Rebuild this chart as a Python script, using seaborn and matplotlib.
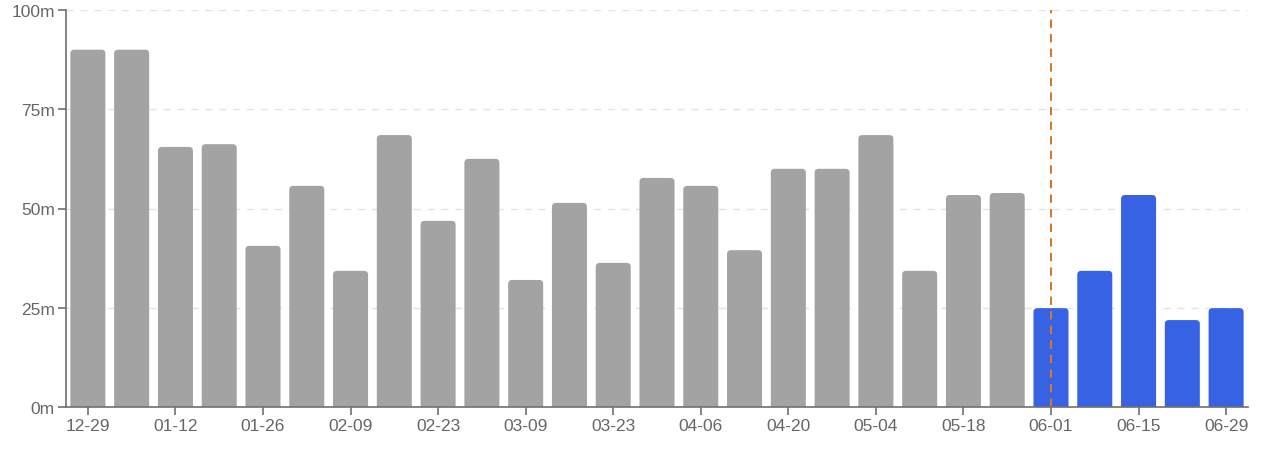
import seaborn as sns
import pandas as pd
import matplotlib.pyplot as plt
from matplotlib.patches import FancyBboxPatch

weeks = ['12-29', '01-05', '01-12', '01-19', '01-26', '02-02', '02-09', '02-16',
         '02-23', '03-02', '03-09', '03-16', '03-23', '03-30', '04-06', '04-13',
         '04-20', '04-27', '05-04', '05-11', '05-18', '05-25', '06-01', '06-08',
         '06-15', '06-22', '06-29']
values = [90, 90, 65.5, 66.2, 40.6, 55.7, 34.3, 68.5, 46.9, 62.5, 32, 51.4, 36.3,
          57.7, 55.7, 39.5, 60, 60, 68.5, 34.3, 53.4, 53.9, 24.9, 34.3, 53.4, 21.9, 24.9]
period = ['past'] * 22 + ['current'] * 5
marker_week = '06-01'

df = pd.DataFrame({'week': weeks, 'value': values, 'period': period})

sns.set_style('white')
plt.rcParams['font.family'] = ['Liberation Sans', 'DejaVu Sans']

fig = plt.figure(figsize=(12.74, 4.56), dpi=100)
ax = fig.add_axes([66 / 1274, 48 / 456, 1182 / 1274, 397 / 456])

sns.barplot(data=df, x='week', y='value', hue='period', dodge=False,
            palette={'past': '#a3a3a3', 'current': '#3762e4'}, saturation=1,
            width=0.8, legend=False, ax=ax, zorder=2)

# swap the plain rectangles for ones with slightly rounded tops
aspect = (100 / 397) / (len(weeks) / 1182)
for bar in list(ax.patches):
    x, w, h = bar.get_x(), bar.get_width(), bar.get_height()
    rounded = FancyBboxPatch((x, -2), w, h + 2,
                             boxstyle='round,pad=0,rounding_size=0.09',
                             mutation_aspect=aspect, facecolor=bar.get_facecolor(),
                             edgecolor='none', zorder=2)
    bar.remove()
    ax.add_patch(rounded)

ax.axvline(weeks.index(marker_week), color='#d6782b', linestyle=(0, (4, 3)),
           linewidth=1.5, zorder=3)

ax.set_ylim(0, 100)
ax.set_xlim(-0.5, len(weeks) - 0.5)
ax.set_yticks([0, 25, 50, 75, 100])
ax.set_yticklabels(['0m', '25m', '50m', '75m', '100m'])
ax.set_xticks(range(0, len(weeks), 2))
ax.set_xticklabels(weeks[::2])
ax.set_xlabel('')
ax.set_ylabel('')

for y in [25, 50, 75, 100]:
    ax.axhline(y, color='#e3e3e3', linestyle=(0, (5, 5)), linewidth=1, zorder=1)

for side in ['top', 'right']:
    ax.spines[side].set_visible(False)
for side in ['left', 'bottom']:
    ax.spines[side].set_color('#707070')
    ax.spines[side].set_linewidth(1.2)
    ax.spines[side].set_zorder(4)

ax.tick_params(axis='both', colors='#707070', labelcolor='#666666',
               labelsize=12.5, length=6, width=1.2, direction='out')
ax.tick_params(axis='y', left=True, pad=2)
ax.tick_params(axis='x', bottom=True, pad=2)

fig.savefig('out.png', dpi=100)
